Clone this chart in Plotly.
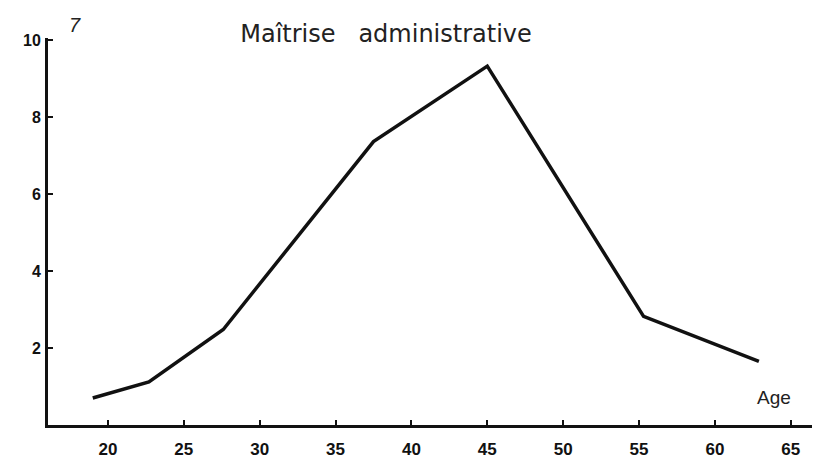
import plotly.graph_objects as go

ages = [19.0, 22.7, 27.6, 37.5, 45.0, 55.3, 62.9]
values = [0.70, 1.12, 2.48, 7.36, 9.32, 2.82, 1.65]

x_ticks = [20, 25, 30, 35, 40, 45, 50, 55, 60, 65]
y_ticks = [2, 4, 6, 8, 10]

fig = go.Figure()
fig.add_trace(go.Scatter(
    x=ages, y=values, mode="lines",
    line=dict(color="#111111", width=3.5),
    hoverinfo="skip", showlegend=False,
))

fig.update_layout(
    width=820, height=476,
    margin=dict(l=40, r=16, t=30, b=59),
    paper_bgcolor="white", plot_bgcolor="white",
    font=dict(family="Liberation Sans, Arial, sans-serif", color="#111111"),
    title=dict(
        text="Maîtrise   administrative",
        x=0.461, xanchor="center", y=0.947, yanchor="middle",
        font=dict(size=24, color="#222222", family="DejaVu Sans, sans-serif"),
    ),
    showlegend=False,
)

fig.update_xaxes(
    range=[16.05, 66.4],
    showgrid=False, zeroline=False,
    showline=True, linecolor="#111111", linewidth=3,
    tickmode="array", tickvals=x_ticks,
    ticktext=[f"<b>{t}</b>" for t in x_ticks],
    ticks="inside", ticklen=5, tickwidth=2, tickcolor="#111111",
    tickfont=dict(size=17, color="#111111"),
    ticklabelstandoff=7,
)
fig.update_yaxes(
    range=[0, 10.05],
    showgrid=False, zeroline=False,
    showline=True, linecolor="#111111", linewidth=3,
    tickmode="array", tickvals=y_ticks,
    ticktext=[f"<b>{t}</b>" for t in y_ticks],
    ticks="inside", ticklen=5, tickwidth=2, tickcolor="#111111",
    tickfont=dict(size=16, color="#111111"),
    ticklabelstandoff=1,
)

fig.add_annotation(
    x=0.975, xref="paper", y=0.07, yref="paper",
    text="Age", showarrow=False,
    xanchor="right", yanchor="middle",
    font=dict(size=19, color="#222222"),
)
fig.add_annotation(
    x=0.025, xref="paper", y=1.0, yref="paper",
    text="<i>7</i>", showarrow=False,
    xanchor="left", yanchor="bottom",
    font=dict(size=20, color="#222222"),
)

fig.write_html("out.html")
